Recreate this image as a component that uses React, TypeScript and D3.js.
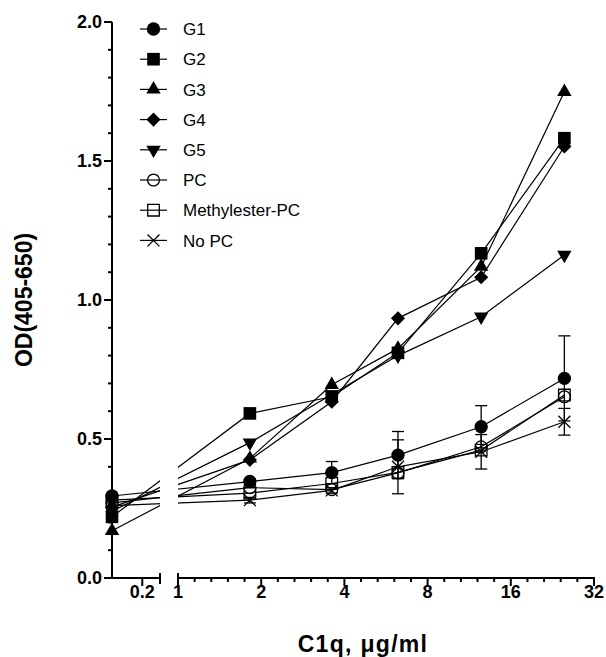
import React from 'react'
import * as d3 from 'd3'

// concentrations (ug/ml); first one sits on the left axis segment
const doses = [0.1, 1.82, 3.6, 6.25, 12.5, 25]

const seriesNames = ['G1', 'G2', 'G3', 'G4', 'G5', 'PC', 'Methylester-PC', 'No PC']
const g1 = [0.295, 0.347, 0.379, 0.442, 0.544, 0.718]
const g2 = [0.22, 0.592, 0.652, 0.81, 1.168, 1.582]
const g3 = [0.17, 0.43, 0.695, 0.825, 1.12, 1.749]
const g4 = [0.255, 0.425, 0.634, 0.934, 1.082, 1.552]
const g5 = [0.24, 0.487, 0.66, 0.8, 0.94, 1.162]
const pc = [0.27, 0.325, 0.318, 0.378, 0.472, 0.652]
const mpc = [0.28, 0.305, 0.34, 0.38, 0.46, 0.658]
const noPc = [0.26, 0.28, 0.315, 0.4, 0.454, 0.562]
// SD, only visible for these two
const g1Err = [0.01, 0.01, 0.04, 0.085, 0.076, 0.153]
const noPcErr = [0.01, 0.01, 0.01, 0.097, 0.062, 0.048]

const yTicks = [0, 0.5, 1, 1.5, 2]
const leftTicks = [0.2]
const rightTicks = [1, 2, 4, 8, 16, 32]

const markers = ['circle', 'square', 'triangle', 'diamond', 'down', 'ocircle', 'osquare', 'x']
const allValues = [g1, g2, g3, g4, g5, pc, mpc, noPc]
const allErrors = [g1Err, null, null, null, null, null, null, noPcErr]

const FONT = '"Liberation Sans", Arial, sans-serif'

function Marker({ kind, x, y }) {
  let path, fill = 'black', stroke = 'none', rot = 0
  if (kind === 'circle') path = d3.symbol(d3.symbolCircle, 140)()
  if (kind === 'square') path = d3.symbol(d3.symbolSquare, 160)()
  if (kind === 'triangle') path = d3.symbol(d3.symbolTriangle, 90)()
  if (kind === 'down') { path = d3.symbol(d3.symbolTriangle, 90)(); rot = 180 }
  if (kind === 'diamond') { path = d3.symbol(d3.symbolSquare, 100)(); rot = 45 }
  if (kind === 'ocircle') { path = d3.symbol(d3.symbolCircle, 110)(); fill = 'none'; stroke = 'black' }
  if (kind === 'osquare') { path = d3.symbol(d3.symbolSquare, 135)(); fill = 'none'; stroke = 'black' }
  if (kind === 'x') { path = d3.symbol(d3.symbolX, 95)(); fill = 'none'; stroke = 'black' }
  return <path d={path} transform={`translate(${x},${y}) rotate(${rot})`} fill={fill} stroke={stroke} strokeWidth={1.3} />
}

export default function App() {
  const width = 606, height = 657
  const y = d3.scaleLinear().domain([0, 2]).range([578, 22])
  const xLeft = d3.scaleLog().base(10).domain([0.1, 0.3]).range([112, 160])
  const xRight = d3.scaleLog().base(2).domain([1, 32]).range([178, 594])
  const xPos = (v) => (v < 0.5 ? xLeft(v) : xRight(v))
  const axisY = y(0)

  const line = d3.line().x((d) => xPos(d[0])).y((d) => y(d[1]))

  // minor ticks: y every 0.1, x log axis 4 evenly spaced (in log) per doubling
  const yMinor = d3.range(0, 2.001, 0.1)
  const xMinor = []
  for (let k = 0; k < 5; k++) for (let j = 1; j < 5; j++) xMinor.push(Math.pow(2, k + j / 5))

  const legendY = (i) => 29 + i * 30.2

  return (
    <svg width={width} height={height} style={{ display: 'block', position: 'absolute', left: 0, top: 0, background: 'white' }}>
      <defs>
        <clipPath id="gap">
          <rect x={0} y={0} width={160} height={height} />
          <rect x={178} y={0} width={width - 178} height={height} />
        </clipPath>
      </defs>

      {/* y axis */}
      <line x1={112} x2={112} y1={y(2)} y2={axisY} stroke="black" strokeWidth={2} />
      {yMinor.map((t, i) => (
        <line key={'ym' + i} x1={108} x2={112} y1={y(t)} y2={y(t)} stroke="black" strokeWidth={2} />
      ))}
      {yTicks.map((t) => (
        <g key={'y' + t}>
          <line x1={104} x2={112} y1={y(t)} y2={y(t)} stroke="black" strokeWidth={2} />
          <text x={102} y={y(t)} dy="0.35em" textAnchor="end" fontFamily={FONT} fontWeight="bold" fontSize={18}>
            {d3.format('.1f')(t)}
          </text>
        </g>
      ))}

      {/* x axis, broken */}
      <line x1={111} x2={160} y1={axisY} y2={axisY} stroke="black" strokeWidth={2} />
      <line x1={160} x2={160} y1={axisY - 5} y2={axisY + 6} stroke="black" strokeWidth={2} />
      {leftTicks.map((t) => (
        <g key={'xl' + t}>
          <line x1={xLeft(t)} x2={xLeft(t)} y1={axisY} y2={axisY + 8} stroke="black" strokeWidth={2} />
          <text x={xLeft(t)} y={598} textAnchor="middle" fontFamily={FONT} fontWeight="bold" fontSize={18}>{t}</text>
        </g>
      ))}
      <line x1={178} x2={595} y1={axisY} y2={axisY} stroke="black" strokeWidth={2} />
      <line x1={178} x2={178} y1={axisY - 5} y2={axisY + 6} stroke="black" strokeWidth={2} />
      {xMinor.map((t, i) => (
        <line key={'xm' + i} x1={xRight(t)} x2={xRight(t)} y1={axisY} y2={axisY + 4} stroke="black" strokeWidth={2} />
      ))}
      {rightTicks.map((t) => (
        <g key={'xr' + t}>
          <line x1={xRight(t)} x2={xRight(t)} y1={axisY} y2={axisY + 8} stroke="black" strokeWidth={2} />
          <text x={xRight(t)} y={598} textAnchor="middle" fontFamily={FONT} fontWeight="bold" fontSize={18}>{t}</text>
        </g>
      ))}

      {/* axis titles */}
      <text x={363} y={652} textAnchor="middle" fontFamily={FONT} fontWeight="bold" fontSize={23} letterSpacing={1.3}>
        C1q, μg/ml
      </text>
      <text transform={`translate(32,300) rotate(-90)`} textAnchor="middle" fontFamily={FONT} fontWeight="bold" fontSize={23}>
        OD(405-650)
      </text>

      {/* connecting lines, cut in the axis gap */}
      <g clipPath="url(#gap)">
        {allValues.map((vals, s) => (
          <path key={'l' + s} d={line(doses.map((d, i) => [d, vals[i]]))} fill="none" stroke="black" strokeWidth={1.2} />
        ))}
      </g>

      {/* error bars */}
      {allErrors.map((errs, s) =>
        errs
          ? errs.map((e, i) => {
              const cx = xPos(doses[i])
              const v = allValues[s][i]
              return (
                <g key={'e' + s + '-' + i} stroke="black" strokeWidth={1.3}>
                  <line x1={cx} x2={cx} y1={y(v + e)} y2={y(v - e)} />
                  <line x1={cx - 6} x2={cx + 6} y1={y(v + e)} y2={y(v + e)} />
                  <line x1={cx - 6} x2={cx + 6} y1={y(v - e)} y2={y(v - e)} />
                </g>
              )
            })
          : null
      )}

      {/* markers */}
      {allValues.map((vals, s) =>
        vals.map((v, i) => <Marker key={'m' + s + '-' + i} kind={markers[s]} x={xPos(doses[i])} y={y(v)} />)
      )}

      {/* legend */}
      {seriesNames.map((name, i) => (
        <g key={'lg' + i}>
          <line x1={140} x2={167} y1={legendY(i)} y2={legendY(i)} stroke="black" strokeWidth={1.2} />
          <Marker kind={markers[i]} x={153.5} y={legendY(i)} />
          <text x={183} y={legendY(i)} dy="0.36em" fontFamily={FONT} fontSize={17}>{name}</text>
        </g>
      ))}
    </svg>
  )
}
